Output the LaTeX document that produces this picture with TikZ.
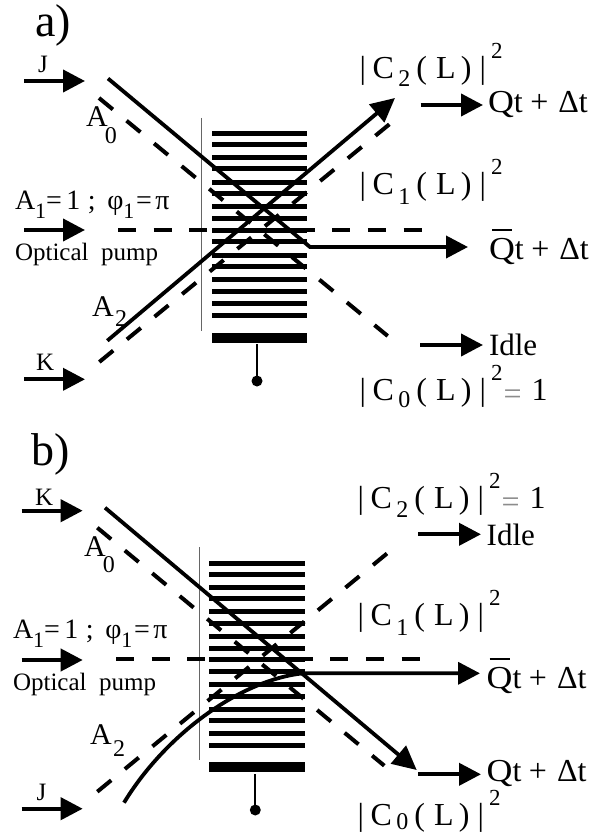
\documentclass[tikz,border=0pt]{standalone}
\usepackage{graphicx}
\usepackage{fontspec}
\setmainfont{Liberation Serif}
\usetikzlibrary{arrows.meta}
\newcommand\fz[1]{\fontsize{#1}{#1}\selectfont}
% |C_n(L)|^2 : #1 subscript, #2 drop of the subscript
\newcommand\Cterm[2]{\fz{32}|\kern6.7pt C\kern4.5pt\raisebox{-#2pt}{\fz{24}#1}\kern6pt(\kern9pt L\kern5.3pt)\kern8pt|\kern5pt\raisebox{20pt}{\fz{23}2}}
\newcommand\Eqone[2]{\kern1pt\raisebox{-#1pt}{\textcolor{black!45}{=}}\kern#2pt 1}
\newcommand\Qtail{t\kern7.5pt+\kern10pt Δt}
\newcommand\QtT{\fz{32}\scalebox{1.12}[1]{Q}\Qtail}
\newcommand\QbarT{\fz{32}\rlap{\kern3pt\raisebox{28.7pt}{\rule{20pt}{1.6pt}}}\scalebox{1.12}[1]{Q}\Qtail}
\newcommand\AoneT{\fz{28}A\raisebox{-9pt}{\fz{22}1}=\kern4.5pt 1\kern7.5pt;\kern11.5pt φ\raisebox{-9pt}{\fz{22}1}\kern1.7pt=\kern3.5pt π}
\newcommand\AsubT[3]{\fz{30}A\kern#3pt\raisebox{-#2pt}{\fz{24}#1}}
\tikzset{
  lbl/.style={anchor=base west,inner sep=0pt,outer sep=0pt,text=black},
  beam/.style={line width=3.8pt,black},
  dbeam/.style={line width=4pt,black,dash pattern=on 18pt off 17.7pt},
  feed/.style={line width=4pt,black,-{Triangle[length=22pt,width=22pt]}},
  beamtip/.style={line width=3.8pt,black,-{Triangle[length=24pt,width=23pt]}},
  thinl/.style={line width=.7pt,black!60},
  pin/.style={line width=2pt,black}
}
\begin{document}
\begin{tikzpicture}[x=1pt,y=-1pt]
\useasboundingbox (0,0) rectangle (602,834);
\fill[white] (0,0) rectangle (602,834);

% ---------- panel a ----------
\draw[thinl] (201.7,118) -- (201.7,331);
\foreach \yy in {133.7,144.7,158,169,182.3,194,207,218.7,230,241.7,255,266.3,279.7,291,303.7,315.3}
  \fill[black] (211.5,\yy-2.5) rectangle (307,\yy+2.5);
\fill[black] (211.5,333) rectangle (307,342.7);
\coordinate (apt) at (257,344);
\coordinate (apb) at (257,381);
\draw[pin] (apt) -- (apb);
\fill[black] (apb) circle[radius=5.5pt];

\node[lbl,font=\fz{46}] (atitle) at (35,37) {a)};
\node[lbl,font=\fz{25}] (aJ) at (38,72.7) {J};
\node[lbl,font=\fz{25}] (aK) at (36,370) {K};
\node[lbl] (aA0) at (86,126.7) {\AsubT{0}{16.5}{-2.7}};
\node[lbl] (aA2) at (92,316) {\AsubT{2}{10.7}{1.5}};
\node[lbl] (aA1) at (15,209.3) {\AoneT};
\node[lbl,font=\fz{25}] (aOP) at (15,260.7) {Optical\ \ pump};
\node[lbl] (aC2) at (359.5,79) {\Cterm{2}{8}};
\node[lbl] (aC1) at (359.5,195) {\Cterm{1}{10}};
\node[lbl] (aC0) at (359.5,400) {\Cterm{0}{7}\Eqone{4}{10}};
\node[lbl] (aQ) at (488,112.7) {\QtT};
\node[lbl] (aQb) at (489,259.3) {\QbarT};
\node[lbl,font=\fz{31}] (aIdle) at (489,355.7) {Idle};

\coordinate (aJs) at (24,81);     \coordinate (aJe) at (85,81);
\coordinate (aPs) at (24,230);    \coordinate (aPe) at (85,230);
\coordinate (aKs) at (24,379.3);  \coordinate (aKe) at (85,379.3);
\coordinate (aQs) at (420.7,105); \coordinate (aQe) at (483,105);
\coordinate (aIs) at (420,345);   \coordinate (aIe) at (483,345);
\draw[feed] (aJs) -- (aJe);
\draw[feed] (aPs) -- (aPe);
\draw[feed] (aKs) -- (aKe);
\draw[feed] (aQs) -- (aQe);
\draw[feed] (aIs) -- (aIe);

\coordinate (aD0s) at (99,98);     \coordinate (aD0e) at (387.7,336);
\coordinate (aD2s) at (99.3,362);  \coordinate (aD2e) at (400.7,115);
\coordinate (aD1s) at (118,230);   \coordinate (aD1e) at (422,230);
\draw[dbeam] (aD0s) -- (aD0e);
\draw[dbeam] (aD2s) -- (aD2e);
\draw[dbeam] (aD1s) -- (aD1e);

\coordinate (aS0s) at (108,78.5);  \coordinate (aS0k) at (310,247); \coordinate (aS0e) at (468,247);
\coordinate (aS2s) at (107.3,340.7); \coordinate (aS2e) at (395,98);
\draw[beam,-{Triangle[length=22pt,width=22pt]}] (aS0s) -- (aS0k) -- (aS0e);
\draw[beamtip] (aS2s) -- (aS2e);

% ---------- panel b ----------
\draw[thinl] (199.3,547) -- (199.3,760);
\foreach \yy in {563,574.3,587.3,598.7,611.7,623.3,636.7,648,659.7,671.3,684.3,696,709,720.3,733.3,745}
  \fill[black] (209,\yy-2.5) rectangle (304.7,\yy+2.5);
\fill[black] (209,762) rectangle (304.7,772.3);
\coordinate (bpt) at (255.3,774);
\coordinate (bpb) at (255.3,810);
\draw[pin] (bpt) -- (bpb);
\fill[black] (bpb) circle[radius=5.5pt];

\node[lbl,font=\fz{46}] (btitle) at (31,465) {b)};
\node[lbl,font=\fz{25}] (bK) at (35,505) {K};
\node[lbl,font=\fz{25}] (bJ) at (36.7,800) {J};
\node[lbl] (bA0) at (84,556) {\AsubT{0}{16.5}{-2.7}};
\node[lbl] (bA2) at (90,744) {\AsubT{2}{12}{1.5}};
\node[lbl] (bA1) at (13,638.3) {\AoneT};
\node[lbl,font=\fz{25}] (bOP) at (13,690) {Optical\ \ pump};
\node[lbl] (bC2) at (357.5,508.3) {\Cterm{2}{9}\Eqone{4}{10}};
\node[lbl] (bC1) at (357.5,625) {\Cterm{1}{10}};
\node[lbl] (bC0) at (357.5,825) {\Cterm{0}{4}};
\node[lbl] (bQ) at (486.7,781.7) {\QtT};
\node[lbl] (bQb) at (486.7,688.3) {\QbarT};
\node[lbl,font=\fz{31}] (bIdle) at (486.7,545.7) {Idle};

\coordinate (bKs) at (21.7,510.7);  \coordinate (bKe) at (82.7,510.7);
\coordinate (bPs) at (21.7,660);    \coordinate (bPe) at (82.7,660);
\coordinate (bJs) at (21.7,808.7);  \coordinate (bJe) at (82.7,808.7);
\coordinate (bIs) at (418.3,534.3); \coordinate (bIe) at (481,534.3);
\coordinate (bQs) at (418.3,774.3); \coordinate (bQe) at (481,774.3);
\draw[feed] (bKs) -- (bKe);
\draw[feed] (bPs) -- (bPe);
\draw[feed] (bJs) -- (bJe);
\draw[feed] (bIs) -- (bIe);
\draw[feed] (bQs) -- (bQe);

\coordinate (bD0s) at (97.3,527.7); \coordinate (bD0e) at (384.3,765.7);
\coordinate (bD2s) at (97.3,791.7); \coordinate (bD2e) at (397.7,544.7);
\coordinate (bD1s) at (116,659.3);  \coordinate (bD1e) at (420,659.3);
\draw[dbeam] (bD0s) -- (bD0e);
\draw[dbeam] (bD2s) -- (bD2e);
\draw[dbeam] (bD1s) -- (bD1e);

\coordinate (bS0s) at (105,507.7);  \coordinate (bS0e) at (416.7,770);
\coordinate (bS2s) at (124,802.7);  \coordinate (bS2k) at (303,673.3); \coordinate (bS2e) at (480,673.3);
\draw[beamtip] (bS0s) -- (bS0e);
\draw[beam,-{Triangle[length=22pt,width=22pt]}] (bS2s) .. controls (165,735) and (240,680) .. (bS2k) -- (bS2e);
\end{tikzpicture}
\end{document}
